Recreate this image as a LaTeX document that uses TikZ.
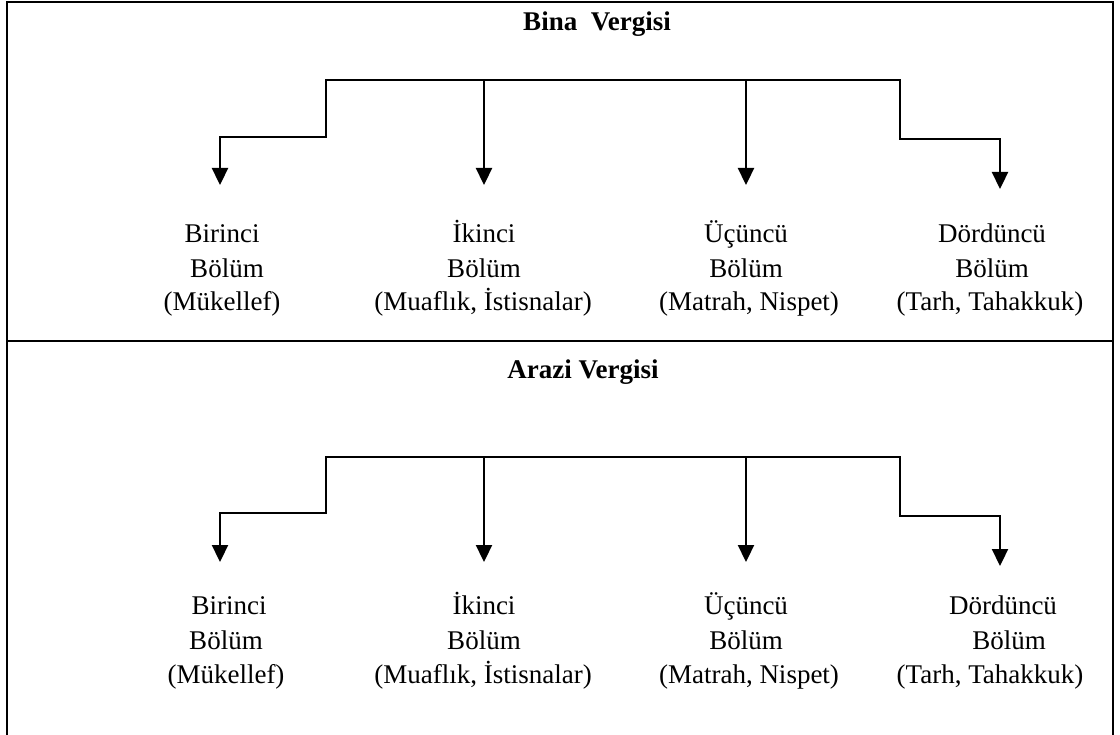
\documentclass[tikz,border=0pt]{standalone}
\usepackage{fontspec}
\setmainfont{Liberation Serif}
\usetikzlibrary{arrows.meta}
\begin{document}
\begin{tikzpicture}[x=1pt,y=-1pt,
  frame/.style={line width=2.8pt},
  conn/.style={line width=2.3pt,line cap=rect,line join=miter},
  arr/.style={conn,-{Triangle[width=16pt,length=17pt]}},
  lbl/.style={font=\fontsize{27}{31}\selectfont,inner sep=0pt,anchor=base},
  ttl/.style={font=\fontsize{27}{31}\selectfont\bfseries,inner sep=0pt,anchor=base}]
\useasboundingbox (0,0) rectangle (1120,735);
% frame
\draw[frame] (7,745) -- (7,2) -- (1113,2) -- (1113,745);
\draw[frame] (7,341) -- (1113,341);
% ---------- Bina Vergisi ----------
\node[ttl] (t1) at (597,31) {Bina\ \ Vergisi};
\coordinate (a1L) at (326,80);
\coordinate (a1M) at (484,80);
\coordinate (a1N) at (746,80);
\coordinate (a1R) at (900,80);
\coordinate (k1a) at (220,137);
\coordinate (k1d) at (1000,139);
\coordinate (e1a) at (220,185);
\coordinate (e1b) at (484,185);
\coordinate (e1c) at (746,185);
\coordinate (e1d) at (1000,189);
\draw[conn] (a1L) -- (a1R);
\draw[arr] (a1L) |- (k1a) -- (e1a);
\draw[arr] (a1M) -- (e1b);
\draw[arr] (a1N) -- (e1c);
\draw[arr] (a1R) |- (k1d) -- (e1d);
\node[lbl] (p1a1) at (222,243) {Birinci};
\node[lbl] (p1a2) at (227,278) {Bölüm};
\node[lbl] (p1a3) at (222,311) {(Mükellef)};
\node[lbl] (p1b1) at (484,243) {İkinci};
\node[lbl] (p1b2) at (484,278) {Bölüm};
\node[lbl] (p1b3) at (483,311) {(Muaflık, İstisnalar)};
\node[lbl] (p1c1) at (746,243) {Üçüncü};
\node[lbl] (p1c2) at (746,278) {Bölüm};
\node[lbl] (p1c3) at (749,311) {(Matrah, Nispet)};
\node[lbl] (p1d1) at (992,243) {Dördüncü};
\node[lbl] (p1d2) at (992,278) {Bölüm};
\node[lbl] (p1d3) at (990,311) {(Tarh, Tahakkuk)};
% ---------- Arazi Vergisi ----------
\node[ttl] (t2) at (583,379) {Arazi Vergisi};
\coordinate (a2L) at (326,457);
\coordinate (a2M) at (484,457);
\coordinate (a2N) at (746,457);
\coordinate (a2R) at (900,457);
\coordinate (k2a) at (220,513);
\coordinate (k2d) at (1000,516);
\coordinate (e2a) at (220,562);
\coordinate (e2b) at (484,562);
\coordinate (e2c) at (746,562);
\coordinate (e2d) at (1000,566);
\draw[conn] (a2L) -- (a2R);
\draw[arr] (a2L) |- (k2a) -- (e2a);
\draw[arr] (a2M) -- (e2b);
\draw[arr] (a2N) -- (e2c);
\draw[arr] (a2R) |- (k2d) -- (e2d);
\node[lbl] (p2a1) at (229,614) {Birinci};
\node[lbl] (p2a2) at (226,649) {Bölüm};
\node[lbl] (p2a3) at (226,683) {(Mükellef)};
\node[lbl] (p2b1) at (484,614) {İkinci};
\node[lbl] (p2b2) at (484,649) {Bölüm};
\node[lbl] (p2b3) at (483,683) {(Muaflık, İstisnalar)};
\node[lbl] (p2c1) at (746,614) {Üçüncü};
\node[lbl] (p2c2) at (746,649) {Bölüm};
\node[lbl] (p2c3) at (749,683) {(Matrah, Nispet)};
\node[lbl] (p2d1) at (1003,614) {Dördüncü};
\node[lbl] (p2d2) at (1009,649) {Bölüm};
\node[lbl] (p2d3) at (990,683) {(Tarh, Tahakkuk)};
\end{tikzpicture}
\end{document}
